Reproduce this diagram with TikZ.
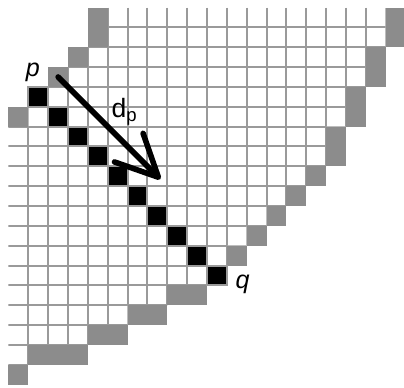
\documentclass[tikz,border=0pt]{standalone}
\usepackage{fontspec}
\setmainfont{Liberation Sans}
\usetikzlibrary{arrows.meta}
\definecolor{gridgray}{HTML}{9A9A9A}
\definecolor{cellgray}{HTML}{8C8C8C}

\begin{document}
\begin{tikzpicture}[x=5mm,y=-5mm,
  gridline/.style={draw=gridgray,line width=1.43pt},
  graycell/.style={fill=cellgray},
  blackcell/.style={fill=black,draw=gridgray,line width=1.43pt},
  lbl/.style={inner sep=0pt,font=\fontsize{18}{18}\selectfont\itshape},
  dirarrow/.style={line width=4pt,line cap=round,-{Straight Barb[length=30pt,width=29pt,round]}}]
\useasboundingbox (-0.428,-0.378) rectangle (19.924,19.118);
\begin{scope}
\clip (5,0) rectangle (19,2) (4,2) rectangle (18,3) (3,3) rectangle (18,4)
  (1,4) rectangle (17,6) (0,6) rectangle (16,8) (0,8) rectangle (15,9)
  (0,9) rectangle (14,10) (0,10) rectangle (13,11) (0,11) rectangle (12,12)
  (0,12) rectangle (11,14) (0,14) rectangle (8,15) (0,15) rectangle (6,16)
  (0,16) rectangle (4,17) (0,17) rectangle (1,18);
\foreach \i in {1,...,19} \draw[gridline] (\i,0) -- (\i,19);
\foreach \j in {1,...,18} \draw[gridline] (0,\j) -- (20,\j);
\end{scope}
\fill[graycell] (4,0) rectangle (5,2);
\fill[graycell] (19,0) rectangle (20,2);
\fill[graycell] (3,2) rectangle (4,3);
\fill[graycell] (18,2) rectangle (19,4);
\fill[graycell] (2,3) rectangle (3,4);
\fill[graycell] (17,4) rectangle (18,6);
\fill[graycell] (0,5) rectangle (1,6);
\fill[graycell] (16,6) rectangle (17,8);
\fill[graycell] (15,8) rectangle (16,9);
\fill[graycell] (14,9) rectangle (15,10);
\fill[graycell] (13,10) rectangle (14,11);
\fill[graycell] (12,11) rectangle (13,12);
\fill[graycell] (11,12) rectangle (12,13);
\fill[graycell] (8,14) rectangle (10,15);
\fill[graycell] (6,15) rectangle (8,16);
\fill[graycell] (4,16) rectangle (6,17);
\fill[graycell] (1,17) rectangle (4,18);
\fill[graycell] (0,18) rectangle (1,19);
\foreach \c in {1,...,10} \filldraw[blackcell] (\c,\c+3) rectangle ++(1,1);
\coordinate (p) at (2.5,3.5);
\coordinate (dpend) at (7.65,8.65);
\draw[dirarrow] (p) -- (dpend);
\node[lbl] (plabel) at (1.23,3.27) {p};
\node[lbl] (qlabel) at (11.79,13.96) {q};
\node[anchor=base west,inner sep=0pt,font=\fontsize{19}{19}\selectfont] (dplabel) at (5.18,5.54) {d\textsubscript{p}};
\end{tikzpicture}
\end{document}
